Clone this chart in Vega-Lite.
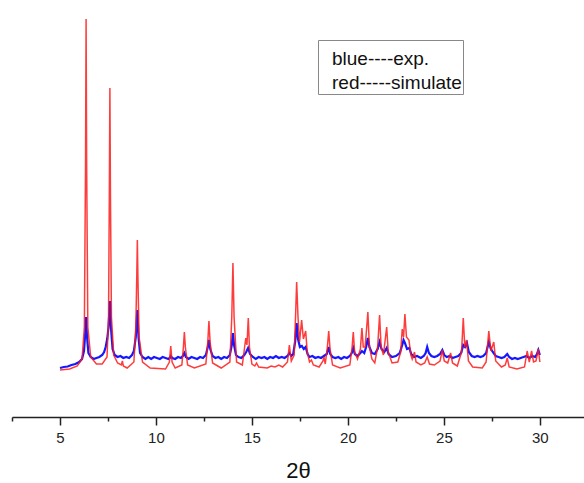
{
  "$schema": "https://vega.github.io/schema/vega-lite/v6.json",
  "autosize": "none",
  "width": 572,
  "height": 407,
  "padding": {"left": 12, "top": 10, "right": 0, "bottom": 66},
  "background": "white",
  "config": {"view": {"stroke": null}, "font": "Liberation Sans"},
  "datasets": {
    "sim": [
      {"x":5.0,"y":47},{"x":5.5,"y":48},{"x":5.9,"y":51},{"x":6.15,"y":58},{"x":6.27,"y":90},{"x":6.33,"y":250},{"x":6.36,"y":398},{"x":6.39,"y":250},{"x":6.45,"y":90},{"x":6.6,"y":60},{"x":6.9,"y":53},{"x":7.2,"y":53},{"x":7.45,"y":60},{"x":7.53,"y":100},{"x":7.57,"y":220},{"x":7.6,"y":329},{"x":7.63,"y":220},{"x":7.68,"y":100},{"x":7.8,"y":62},{"x":8.0,"y":54},{"x":8.2,"y":52},{"x":8.25,"y":56},{"x":8.3,"y":51},{"x":8.5,"y":49},{"x":8.85,"y":55},{"x":8.95,"y":90},{"x":9.0,"y":140},{"x":9.03,"y":177},{"x":9.06,"y":140},{"x":9.12,"y":80},{"x":9.3,"y":55},{"x":9.7,"y":49},{"x":10.5,"y":48},{"x":10.7,"y":55},{"x":10.77,"y":71},{"x":10.84,"y":55},{"x":11.0,"y":49},{"x":11.35,"y":52},{"x":11.43,"y":70},{"x":11.48,"y":85},{"x":11.53,"y":70},{"x":11.65,"y":52},{"x":12.0,"y":49},{"x":12.6,"y":53},{"x":12.7,"y":75},{"x":12.76,"y":96},{"x":12.82,"y":75},{"x":12.95,"y":54},{"x":13.4,"y":49},{"x":13.85,"y":55},{"x":13.95,"y":100},{"x":14.01,"y":154},{"x":14.07,"y":100},{"x":14.2,"y":55},{"x":14.5,"y":52},{"x":14.62,"y":70},{"x":14.68,"y":79},{"x":14.74,"y":72},{"x":14.81,"y":99},{"x":14.87,"y":70},{"x":15.0,"y":53},{"x":15.15,"y":51},{"x":15.24,"y":54},{"x":15.35,"y":50},{"x":15.8,"y":49},{"x":16.0,"y":51},{"x":16.2,"y":50},{"x":16.4,"y":52},{"x":16.6,"y":50},{"x":16.85,"y":55},{"x":16.95,"y":72},{"x":17.05,"y":56},{"x":17.2,"y":62},{"x":17.28,"y":105},{"x":17.33,"y":135},{"x":17.4,"y":100},{"x":17.48,"y":75},{"x":17.59,"y":97},{"x":17.68,"y":78},{"x":17.8,"y":86},{"x":17.88,"y":65},{"x":18.0,"y":55},{"x":18.1,"y":57},{"x":18.2,"y":52},{"x":18.5,"y":50},{"x":18.7,"y":56},{"x":18.75,"y":60},{"x":18.82,"y":53},{"x":18.93,"y":70},{"x":19.0,"y":86},{"x":19.07,"y":68},{"x":19.2,"y":52},{"x":19.6,"y":49},{"x":20.1,"y":52},{"x":20.22,"y":70},{"x":20.28,"y":85},{"x":20.35,"y":65},{"x":20.5,"y":58},{"x":20.65,"y":68},{"x":20.73,"y":89},{"x":20.8,"y":70},{"x":20.9,"y":70},{"x":21.04,"y":105},{"x":21.12,"y":70},{"x":21.25,"y":58},{"x":21.4,"y":54},{"x":21.55,"y":70},{"x":21.65,"y":102},{"x":21.73,"y":70},{"x":21.85,"y":62},{"x":22.02,"y":90},{"x":22.1,"y":65},{"x":22.3,"y":54},{"x":22.6,"y":55},{"x":22.75,"y":65},{"x":22.83,"y":88},{"x":22.9,"y":80},{"x":22.97,"y":103},{"x":23.05,"y":80},{"x":23.18,"y":77},{"x":23.28,"y":62},{"x":23.35,"y":58},{"x":23.47,"y":65},{"x":23.55,"y":55},{"x":23.8,"y":52},{"x":24.0,"y":54},{"x":24.13,"y":60},{"x":24.25,"y":53},{"x":24.5,"y":52},{"x":24.8,"y":56},{"x":24.92,"y":67},{"x":25.02,"y":56},{"x":25.2,"y":54},{"x":25.35,"y":64},{"x":25.45,"y":54},{"x":25.7,"y":51},{"x":25.92,"y":65},{"x":26.01,"y":99},{"x":26.09,"y":70},{"x":26.18,"y":77},{"x":26.28,"y":56},{"x":26.5,"y":50},{"x":27.0,"y":49},{"x":27.2,"y":55},{"x":27.34,"y":86},{"x":27.45,"y":66},{"x":27.6,"y":75},{"x":27.7,"y":56},{"x":28.0,"y":50},{"x":28.2,"y":52},{"x":28.3,"y":59},{"x":28.4,"y":50},{"x":28.8,"y":48},{"x":29.2,"y":50},{"x":29.34,"y":66},{"x":29.45,"y":55},{"x":29.57,"y":66},{"x":29.67,"y":55},{"x":29.8,"y":56},{"x":29.92,"y":68},{"x":30.0,"y":55}
    ],
    "exp": [
      {"x":5.0,"y":49},{"x":5.2,"y":50},{"x":5.4,"y":50.5},{"x":5.6,"y":52},{"x":5.8,"y":53},{"x":6.0,"y":55},{"x":6.15,"y":58},{"x":6.25,"y":66},{"x":6.31,"y":82},{"x":6.36,"y":100},{"x":6.41,"y":80},{"x":6.48,"y":64},{"x":6.6,"y":60},{"x":6.75,"y":58},{"x":6.9,"y":59},{"x":7.05,"y":60},{"x":7.2,"y":62},{"x":7.3,"y":65},{"x":7.38,"y":70},{"x":7.46,"y":78},{"x":7.53,"y":90},{"x":7.6,"y":116},{"x":7.66,"y":88},{"x":7.74,"y":68},{"x":7.85,"y":62},{"x":8.0,"y":60},{"x":8.15,"y":61},{"x":8.3,"y":59},{"x":8.45,"y":60},{"x":8.6,"y":59},{"x":8.75,"y":62},{"x":8.85,"y":66},{"x":8.95,"y":80},{"x":9.03,"y":107},{"x":9.09,"y":80},{"x":9.17,"y":64},{"x":9.3,"y":60},{"x":9.45,"y":58},{"x":9.6,"y":60},{"x":9.75,"y":58},{"x":9.9,"y":60},{"x":10.05,"y":59},{"x":10.2,"y":58},{"x":10.35,"y":60},{"x":10.5,"y":59},{"x":10.65,"y":58},{"x":10.72,"y":59},{"x":10.77,"y":61},{"x":10.85,"y":59},{"x":11.0,"y":58},{"x":11.15,"y":60},{"x":11.3,"y":59},{"x":11.4,"y":61},{"x":11.48,"y":64},{"x":11.56,"y":60},{"x":11.7,"y":58},{"x":11.85,"y":60},{"x":12.0,"y":59},{"x":12.15,"y":58},{"x":12.3,"y":60},{"x":12.45,"y":59},{"x":12.6,"y":62},{"x":12.7,"y":70},{"x":12.76,"y":77},{"x":12.83,"y":68},{"x":12.95,"y":61},{"x":13.1,"y":59},{"x":13.25,"y":60},{"x":13.4,"y":58},{"x":13.55,"y":60},{"x":13.7,"y":59},{"x":13.85,"y":62},{"x":13.95,"y":72},{"x":14.01,"y":84},{"x":14.07,"y":72},{"x":14.17,"y":62},{"x":14.3,"y":60},{"x":14.45,"y":59},{"x":14.6,"y":62},{"x":14.7,"y":65},{"x":14.8,"y":69},{"x":14.9,"y":63},{"x":15.05,"y":60},{"x":15.2,"y":58},{"x":15.35,"y":60},{"x":15.5,"y":59},{"x":15.65,"y":60},{"x":15.8,"y":58},{"x":15.95,"y":60},{"x":16.1,"y":59},{"x":16.25,"y":61},{"x":16.4,"y":59},{"x":16.55,"y":60},{"x":16.7,"y":59},{"x":16.85,"y":61},{"x":16.95,"y":64},{"x":17.05,"y":61},{"x":17.15,"y":63},{"x":17.25,"y":75},{"x":17.33,"y":94},{"x":17.4,"y":78},{"x":17.5,"y":70},{"x":17.6,"y":71},{"x":17.7,"y":68},{"x":17.8,"y":70},{"x":17.9,"y":63},{"x":18.0,"y":60},{"x":18.15,"y":61},{"x":18.3,"y":59},{"x":18.45,"y":60},{"x":18.6,"y":59},{"x":18.75,"y":61},{"x":18.9,"y":63},{"x":19.0,"y":70},{"x":19.08,"y":63},{"x":19.2,"y":60},{"x":19.35,"y":59},{"x":19.5,"y":60},{"x":19.65,"y":58},{"x":19.8,"y":60},{"x":19.95,"y":59},{"x":20.1,"y":61},{"x":20.2,"y":64},{"x":20.28,"y":69},{"x":20.36,"y":63},{"x":20.5,"y":61},{"x":20.65,"y":64},{"x":20.73,"y":66},{"x":20.85,"y":64},{"x":20.95,"y":70},{"x":21.04,"y":79},{"x":21.12,"y":70},{"x":21.25,"y":64},{"x":21.4,"y":63},{"x":21.55,"y":68},{"x":21.65,"y":75},{"x":21.75,"y":68},{"x":21.9,"y":65},{"x":22.02,"y":69},{"x":22.12,"y":63},{"x":22.3,"y":60},{"x":22.5,"y":61},{"x":22.7,"y":64},{"x":22.83,"y":72},{"x":22.9,"y":77},{"x":22.97,"y":74},{"x":23.08,"y":68},{"x":23.2,"y":69},{"x":23.3,"y":63},{"x":23.45,"y":60},{"x":23.6,"y":61},{"x":23.8,"y":59},{"x":23.95,"y":61},{"x":24.05,"y":64},{"x":24.13,"y":70},{"x":24.22,"y":64},{"x":24.35,"y":61},{"x":24.5,"y":60},{"x":24.65,"y":61},{"x":24.8,"y":63},{"x":24.92,"y":67},{"x":25.02,"y":62},{"x":25.15,"y":60},{"x":25.3,"y":61},{"x":25.45,"y":59},{"x":25.6,"y":60},{"x":25.75,"y":61},{"x":25.9,"y":64},{"x":26.01,"y":72},{"x":26.1,"y":70},{"x":26.2,"y":74},{"x":26.3,"y":65},{"x":26.45,"y":61},{"x":26.6,"y":60},{"x":26.75,"y":61},{"x":26.9,"y":60},{"x":27.05,"y":61},{"x":27.2,"y":64},{"x":27.34,"y":75},{"x":27.45,"y":68},{"x":27.55,"y":65},{"x":27.7,"y":61},{"x":27.85,"y":60},{"x":28.0,"y":59},{"x":28.15,"y":60},{"x":28.3,"y":63},{"x":28.4,"y":60},{"x":28.55,"y":58},{"x":28.7,"y":59},{"x":28.85,"y":58},{"x":29.0,"y":59},{"x":29.15,"y":60},{"x":29.3,"y":61},{"x":29.45,"y":59},{"x":29.6,"y":61},{"x":29.75,"y":60},{"x":29.85,"y":63},{"x":29.92,"y":67},{"x":30.0,"y":62}
    ]
  },
  "encoding": {
    "x": {
      "field": "x", "type": "quantitative",
      "scale": {"domain": [2.5, 32.3], "nice": false, "zero": false},
      "axis": {
        "title": "2θ",
        "values": [2.5, 5, 7.5, 10, 12.5, 15, 17.5, 20, 22.5, 25, 27.5, 30],
        "labelExpr": "datum.value % 5 === 0 ? datum.label : ''",
        "grid": false,
        "domainColor": "#222", "domainWidth": 1.5,
        "tickColor": "#222", "tickWidth": 1.5,
        "tickSize": {"condition": {"test": "datum.value % 5 === 0", "value": 8}, "value": 4},
        "labelPadding": 5,
        "labelFontSize": 15, "labelColor": "#222", "labelFont": "Liberation Sans",
        "titleFontSize": 22, "titleFontWeight": "normal", "titleColor": "#111", "titleFont": "Liberation Sans",
        "titlePadding": 15
      }
    },
    "y": {
      "field": "y", "type": "quantitative",
      "scale": {"domain": [0, 407], "nice": false, "zero": false},
      "axis": null
    }
  },
  "layer": [
    {
      "data": {"name": "exp"},
      "mark": {"type": "line", "strokeWidth": 2.2, "opacity": 0.95},
      "encoding": {"color": {"datum": "blue----exp."}}
    },
    {
      "data": {"name": "sim"},
      "mark": {"type": "line", "strokeWidth": 1.5, "opacity": 0.85},
      "encoding": {"color": {
        "datum": "red-----simulate",
        "scale": {"domain": ["blue----exp.", "red-----simulate"], "range": ["#0a0aff", "#ff1a1a"]},
        "legend": {
          "title": " ", "titleFontSize": 1, "titlePadding": 7,
          "orient": "none", "legendX": 306, "legendY": 30,
          "strokeColor": "#888", "padding": 1, "symbolSize": 0, "symbolStrokeWidth": 0,
          "symbolOpacity": 0, "labelOffset": -6, "labelFontSize": 19, "labelColor": "#111",
          "labelFont": "Liberation Sans", "rowPadding": 4, "labelLimit": 300,
          "labelExpr": "datum.label + '\u00a0\u00a0'"
        }
      }}
    }
  ]
}
